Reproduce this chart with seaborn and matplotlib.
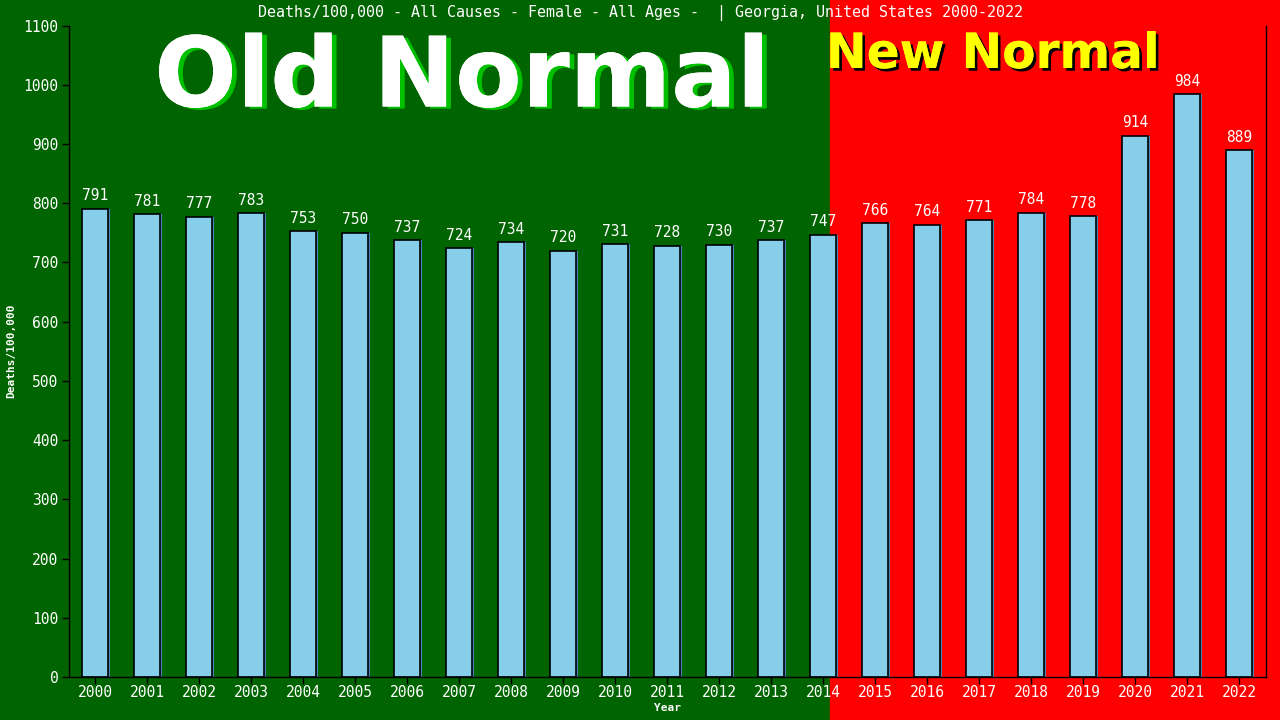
import matplotlib
matplotlib.use("Agg")
import matplotlib.pyplot as plt
import matplotlib.patheffects as pe
import seaborn as sns
import pandas as pd

years = [str(y) for y in range(2000, 2023)]
deaths = [791, 781, 777, 783, 753, 750, 737, 724, 734, 720, 731, 728, 730,
          737, 747, 766, 764, 771, 784, 778, 914, 984, 889]
yticks = list(range(0, 1101, 100))
title = "Deaths/100,000 - All Causes - Female - All Ages -  | Georgia, United States 2000-2022"

sns.set_theme(style="white")
plt.rcParams['font.family'] = ['DejaVu Sans Mono', 'DejaVu Sans']

GREEN = "#006400"
RED = "#ff0000"

fig = plt.figure(figsize=(12.8, 7.2), dpi=100, facecolor=GREEN)
fig.patches.append(plt.Rectangle((830 / 1280, 0), 1 - 830 / 1280, 1,
                                 transform=fig.transFigure, color=RED, zorder=-10))
ax = fig.add_axes([69 / 1280, 1 - 677 / 720, (1265.5 - 69) / 1280, (677 - 25.5) / 720])
ax.set_zorder(1)
ax.patch.set_alpha(0)

df = pd.DataFrame({"Year": years, "Deaths": deaths})
sns.barplot(data=df, x="Year", y="Deaths", color="#87ceeb", saturation=1,
            width=0.5, edgecolor="black", linewidth=1.2, ax=ax,
            err_kws={"linewidth": 0})
for p in ax.patches:
    p.set_path_effects([pe.SimplePatchShadow(offset=(1.2, 0), shadow_rgbFace="#4682b4", alpha=1),
                        pe.Normal()])

for i, v in enumerate(deaths):
    ax.text(i, v + 9, f"{v}", ha="center", va="bottom", color="white", fontsize=10.5)

ax.set_xlim(-0.5, len(years) - 0.5)
ax.set_ylim(0, 1100)
ax.set_yticks(yticks)
ax.tick_params(axis="both", colors="white", labelsize=10.5, length=5, width=1,
               direction="out", left=True, bottom=True, pad=2.5)
ax.tick_params(axis="x", pad=1)
ax.tick_params(axis="both", color="black")
for s in ["left", "bottom", "right"]:
    ax.spines[s].set_color("black")
    ax.spines[s].set_linewidth(1)
ax.spines["top"].set_visible(False)

ax.set_xlabel("Year", color="white", fontsize=8, fontweight="bold", labelpad=2)
ax.set_ylabel("Deaths/100,000", color="white", fontsize=8, fontweight="bold", labelpad=5)

fig.text(640 / 1280, 1 - 13 / 720, title, ha="center", va="center", color="white", fontsize=10.8)

fig.text(462 / 1280, 1 - 80 / 720, "Old Normal", ha="center", va="center", color="white",
         fontsize=70, fontweight="bold", family=["DejaVu Sans"], zorder=0,
         path_effects=[pe.withSimplePatchShadow(offset=(3.5, -1.5), shadow_rgbFace="#00c000", alpha=1),
                       pe.Normal()])
fig.text(993 / 1280, 1 - 54 / 720, "New Normal", ha="center", va="center", color="yellow",
         fontsize=35, fontweight="bold", family=["DejaVu Sans"], zorder=0,
         path_effects=[pe.withSimplePatchShadow(offset=(2, -2), shadow_rgbFace="black", alpha=1),
                       pe.Normal()])

fig.savefig("out.png", dpi=100, facecolor=fig.get_facecolor())
